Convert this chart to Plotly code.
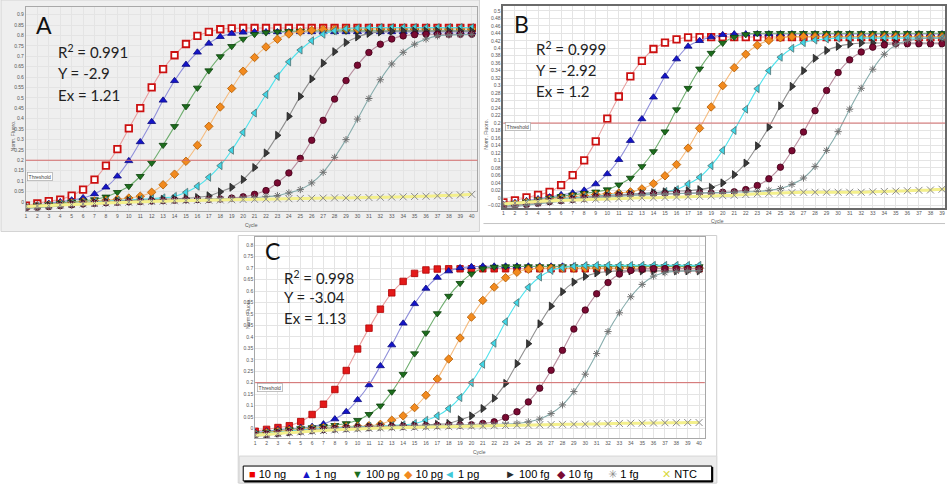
import plotly.graph_objects as go

# ---------------- data ----------------
CYCLES = list(range(1, 41))
SERIES = ["10 ng", "1 ng", "100 pg", "10 pg", "1 pg", "100 fg", "10 fg", "1 fg", "NTC"]
THRESHOLD = 0.2

PANEL_LABELS = ["A", "B", "C"]
R2_VALUES = ["0.991", "0.999", "0.998"]
SLOPES = ["-2.9", "-2.92", "-3.04"]
EFFICIENCIES = ["1.21", "1.2", "1.13"]

A_10NG = [-0.018, -0.008, 0.003, 0.011, 0.030, 0.059, 0.107, 0.174, 0.253, 0.353,
          0.451, 0.550, 0.638, 0.705, 0.759, 0.798, 0.817, 0.830, 0.834, 0.836,
          0.836, 0.836, 0.836, 0.836, 0.836, 0.836, 0.836, 0.836, 0.836, 0.836,
          0.836, 0.836, 0.836, 0.836, 0.836, 0.836, 0.836, 0.836, 0.836, 0.836]
A_1NG = [-0.022, -0.016, -0.008, 0.000, 0.008, 0.019, 0.038, 0.070, 0.123, 0.197,
         0.288, 0.385, 0.488, 0.582, 0.660, 0.719, 0.762, 0.794, 0.809, 0.815,
         0.817, 0.817, 0.817, 0.817, 0.817, 0.817, 0.817, 0.817, 0.817, 0.817,
         0.817, 0.817, 0.817, 0.817, 0.817, 0.817, 0.817, 0.817, 0.817, 0.817]
A_100PG = [-0.025, -0.018, -0.012, -0.006, 0.000, 0.005, 0.011, 0.024, 0.046, 0.075,
           0.123, 0.187, 0.273, 0.363, 0.459, 0.548, 0.631, 0.699, 0.748, 0.783,
           0.806, 0.814, 0.818, 0.820, 0.821, 0.822, 0.822, 0.822, 0.822, 0.822,
           0.822, 0.822, 0.822, 0.822, 0.822, 0.822, 0.822, 0.822, 0.822, 0.822]
A_10PG = [-0.028, -0.022, -0.016, -0.010, -0.005, 0.000, 0.004, 0.008, 0.012, 0.018,
          0.027, 0.046, 0.082, 0.133, 0.195, 0.272, 0.363, 0.456, 0.545, 0.628,
          0.694, 0.745, 0.782, 0.807, 0.818, 0.825, 0.829, 0.830, 0.831, 0.831,
          0.831, 0.831, 0.831, 0.831, 0.831, 0.831, 0.831, 0.831, 0.831, 0.831]
A_1PG = [-0.030, -0.024, -0.018, -0.013, -0.008, -0.004, 0.000, 0.003, 0.006, 0.009,
         0.012, 0.015, 0.019, 0.026, 0.046, 0.075, 0.118, 0.174, 0.248, 0.334,
         0.427, 0.516, 0.603, 0.673, 0.730, 0.775, 0.806, 0.823, 0.832, 0.836,
         0.838, 0.838, 0.838, 0.838, 0.838, 0.838, 0.838, 0.838, 0.838, 0.838]
A_100FG = [-0.028, -0.023, -0.018, -0.013, -0.009, -0.005, -0.002, 0.001, 0.004, 0.006,
           0.008, 0.010, 0.012, 0.014, 0.017, 0.021, 0.029, 0.048, 0.070, 0.107,
           0.165, 0.235, 0.320, 0.411, 0.507, 0.591, 0.667, 0.722, 0.766, 0.793,
           0.810, 0.817, 0.820, 0.821, 0.821, 0.821, 0.821, 0.821, 0.821, 0.821]
A_10FG = [-0.030, -0.026, -0.022, -0.018, -0.014, -0.010, -0.007, -0.004, -0.002, 0.000,
          0.002, 0.004, 0.006, 0.008, 0.010, 0.011, 0.012, 0.014, 0.018, 0.024,
          0.036, 0.054, 0.091, 0.139, 0.209, 0.296, 0.392, 0.494, 0.583, 0.657,
          0.718, 0.758, 0.783, 0.798, 0.804, 0.806, 0.806, 0.806, 0.806, 0.806]
A_1FG = [-0.032, -0.028, -0.024, -0.020, -0.016, -0.012, -0.009, -0.006, -0.003, -0.001,
         0.001, 0.003, 0.005, 0.007, 0.009, 0.011, 0.013, 0.015, 0.016, 0.018,
         0.020, 0.025, 0.030, 0.043, 0.059, 0.091, 0.142, 0.214, 0.299, 0.398,
         0.497, 0.587, 0.663, 0.719, 0.758, 0.783, 0.798, 0.802, 0.804, 0.805]
A_NTC = [-0.022, -0.020, -0.018, -0.015, -0.013, -0.010, -0.008, -0.006, -0.004, -0.002,
         0.000, 0.002, 0.003, 0.005, 0.006, 0.007, 0.008, 0.009, 0.010, 0.011,
         0.012, 0.013, 0.014, 0.015, 0.016, 0.017, 0.018, 0.019, 0.019, 0.020,
         0.021, 0.022, 0.023, 0.024, 0.026, 0.027, 0.029, 0.031, 0.033, 0.036]

B_10NG = [-0.012, -0.007, 0.001, 0.008, 0.016, 0.034, 0.061, 0.100, 0.151, 0.212,
          0.271, 0.325, 0.366, 0.398, 0.415, 0.424, 0.429, 0.430, 0.430, 0.430,
          0.430, 0.430, 0.430, 0.430, 0.430, 0.430, 0.430, 0.430, 0.430, 0.430,
          0.430, 0.430, 0.430, 0.430, 0.430, 0.430, 0.430, 0.430, 0.430, 0.430]
B_1NG = [-0.018, -0.013, -0.008, -0.003, 0.002, 0.008, 0.013, 0.020, 0.037, 0.064,
         0.102, 0.153, 0.211, 0.269, 0.325, 0.371, 0.405, 0.420, 0.430, 0.436,
         0.438, 0.438, 0.438, 0.438, 0.438, 0.438, 0.438, 0.438, 0.438, 0.438,
         0.438, 0.438, 0.438, 0.438, 0.438, 0.438, 0.438, 0.438, 0.438, 0.438]
B_100PG = [-0.020, -0.015, -0.010, -0.005, -0.001, 0.004, 0.008, 0.012, 0.016, 0.022,
           0.035, 0.053, 0.084, 0.124, 0.177, 0.236, 0.293, 0.345, 0.387, 0.414,
           0.430, 0.437, 0.440, 0.440, 0.440, 0.440, 0.440, 0.440, 0.440, 0.440,
           0.440, 0.440, 0.440, 0.440, 0.440, 0.440, 0.440, 0.440, 0.440, 0.440]
B_10PG = [-0.022, -0.017, -0.012, -0.008, -0.004, 0.000, 0.003, 0.006, 0.009, 0.011,
          0.013, 0.016, 0.024, 0.038, 0.059, 0.089, 0.133, 0.186, 0.243, 0.300,
          0.348, 0.384, 0.408, 0.421, 0.428, 0.431, 0.431, 0.431, 0.431, 0.431,
          0.431, 0.431, 0.431, 0.431, 0.431, 0.431, 0.431, 0.431, 0.431, 0.431]
B_1PG = [-0.024, -0.019, -0.014, -0.010, -0.006, -0.003, 0.000, 0.003, 0.005, 0.007,
         0.009, 0.010, 0.011, 0.013, 0.017, 0.022, 0.037, 0.055, 0.086, 0.127,
         0.180, 0.237, 0.292, 0.340, 0.376, 0.400, 0.415, 0.422, 0.425, 0.427,
         0.427, 0.427, 0.427, 0.427, 0.427, 0.427, 0.427, 0.427, 0.427, 0.427]
B_100FG = [-0.024, -0.020, -0.016, -0.012, -0.008, -0.005, -0.002, 0.001, 0.004, 0.006,
           0.008, 0.010, 0.012, 0.014, 0.016, 0.018, 0.019, 0.022, 0.028, 0.040,
           0.062, 0.093, 0.139, 0.189, 0.246, 0.298, 0.340, 0.373, 0.394, 0.405,
           0.411, 0.414, 0.414, 0.414, 0.414, 0.414, 0.414, 0.414, 0.414, 0.414]
B_10FG = [-0.026, -0.022, -0.018, -0.014, -0.010, -0.007, -0.004, -0.001, 0.002, 0.004,
          0.006, 0.008, 0.009, 0.010, 0.011, 0.012, 0.012, 0.013, 0.013, 0.015,
          0.016, 0.022, 0.033, 0.051, 0.082, 0.126, 0.176, 0.233, 0.287, 0.335,
          0.369, 0.390, 0.403, 0.409, 0.412, 0.412, 0.412, 0.412, 0.412, 0.412]
B_1FG = [-0.028, -0.024, -0.020, -0.016, -0.012, -0.009, -0.006, -0.003, 0.000, 0.002,
         0.004, 0.006, 0.008, 0.009, 0.010, 0.011, 0.012, 0.013, 0.014, 0.014,
         0.015, 0.016, 0.017, 0.020, 0.025, 0.036, 0.053, 0.084, 0.127, 0.177,
         0.237, 0.293, 0.344, 0.384, 0.409, 0.420, 0.425, 0.427, 0.427, 0.427]
B_NTC = [-0.016, -0.014, -0.012, -0.010, -0.008, -0.007, -0.006, -0.005, -0.004, -0.003,
         -0.002, -0.001, 0.000, 0.000, 0.001, 0.002, 0.003, 0.004, 0.005, 0.006,
         0.007, 0.009, 0.011, 0.012, 0.013, 0.014, 0.015, 0.015, 0.015, 0.015,
         0.015, 0.015, 0.016, 0.017, 0.018, 0.019, 0.020, 0.021, 0.023, 0.024]

C_10NG = [-0.012, -0.004, 0.004, 0.012, 0.030, 0.061, 0.106, 0.170, 0.253, 0.347,
          0.438, 0.521, 0.592, 0.642, 0.677, 0.692, 0.696, 0.697, 0.697, 0.697,
          0.697, 0.697, 0.697, 0.697, 0.697, 0.697, 0.697, 0.697, 0.697, 0.697,
          0.697, 0.697, 0.697, 0.697, 0.697, 0.697, 0.697, 0.697, 0.697, 0.697]
C_1NG = [-0.018, -0.012, -0.006, -0.001, 0.003, 0.008, 0.019, 0.041, 0.073, 0.125,
         0.190, 0.273, 0.364, 0.459, 0.544, 0.611, 0.659, 0.687, 0.701, 0.706,
         0.708, 0.708, 0.708, 0.708, 0.708, 0.708, 0.708, 0.708, 0.708, 0.708,
         0.708, 0.708, 0.708, 0.708, 0.708, 0.708, 0.708, 0.708, 0.708, 0.708]
C_100PG = [-0.022, -0.016, -0.010, -0.005, 0.000, 0.004, 0.009, 0.014, 0.022, 0.036,
           0.062, 0.099, 0.160, 0.237, 0.327, 0.417, 0.502, 0.578, 0.634, 0.675,
           0.698, 0.705, 0.707, 0.707, 0.707, 0.707, 0.707, 0.707, 0.707, 0.707,
           0.707, 0.707, 0.707, 0.707, 0.707, 0.707, 0.707, 0.707, 0.707, 0.707]
C_10PG = [-0.025, -0.019, -0.013, -0.008, -0.004, 0.000, 0.003, 0.006, 0.008, 0.010,
          0.012, 0.018, 0.036, 0.055, 0.091, 0.145, 0.216, 0.303, 0.395, 0.486,
          0.559, 0.617, 0.658, 0.682, 0.695, 0.700, 0.700, 0.700, 0.700, 0.700,
          0.700, 0.700, 0.700, 0.700, 0.700, 0.700, 0.700, 0.700, 0.700, 0.700]
C_1PG = [-0.028, -0.022, -0.016, -0.011, -0.007, -0.003, 0.000, 0.003, 0.005, 0.007,
         0.009, 0.011, 0.013, 0.016, 0.022, 0.036, 0.055, 0.087, 0.135, 0.200,
         0.280, 0.372, 0.466, 0.549, 0.616, 0.661, 0.690, 0.702, 0.708, 0.711,
         0.712, 0.712, 0.712, 0.712, 0.712, 0.712, 0.712, 0.712, 0.712, 0.712]
C_100FG = [-0.032, -0.026, -0.020, -0.015, -0.010, -0.006, -0.003, 0.000, 0.003, 0.005,
           0.007, 0.009, 0.011, 0.012, 0.013, 0.015, 0.018, 0.022, 0.038, 0.055,
           0.087, 0.132, 0.197, 0.283, 0.370, 0.457, 0.534, 0.597, 0.639, 0.664,
           0.679, 0.685, 0.688, 0.688, 0.688, 0.688, 0.688, 0.688, 0.688, 0.688]
C_10FG = [-0.030, -0.025, -0.020, -0.015, -0.011, -0.007, -0.004, -0.001, 0.002, 0.004,
          0.006, 0.008, 0.009, 0.010, 0.011, 0.012, 0.013, 0.014, 0.015, 0.016,
          0.022, 0.029, 0.048, 0.073, 0.116, 0.176, 0.254, 0.341, 0.434, 0.517,
          0.588, 0.637, 0.674, 0.690, 0.696, 0.698, 0.698, 0.698, 0.698, 0.698]
C_1FG = [-0.034, -0.029, -0.024, -0.019, -0.015, -0.011, -0.008, -0.005, -0.002, 0.000,
         0.002, 0.004, 0.006, 0.008, 0.010, 0.011, 0.012, 0.013, 0.014, 0.015,
         0.016, 0.017, 0.019, 0.022, 0.029, 0.041, 0.065, 0.103, 0.161, 0.237,
         0.327, 0.423, 0.505, 0.575, 0.629, 0.665, 0.680, 0.686, 0.688, 0.689]
C_NTC = [-0.030, -0.026, -0.022, -0.018, -0.015, -0.012, -0.009, -0.006, -0.004, -0.002,
         0.000, 0.002, 0.003, 0.004, 0.005, 0.006, 0.007, 0.008, 0.009, 0.010,
         0.011, 0.012, 0.013, 0.014, 0.015, 0.016, 0.017, 0.018, 0.018, 0.019,
         0.020, 0.021, 0.022, 0.023, 0.023, 0.024, 0.025, 0.025, 0.026, 0.026]

A_DATA = [A_10NG, A_1NG, A_100PG, A_10PG, A_1PG, A_100FG, A_10FG, A_1FG, A_NTC]
B_DATA = [B_10NG, B_1NG, B_100PG, B_10PG, B_1PG, B_100FG, B_10FG, B_1FG, B_NTC]
C_DATA = [C_10NG, C_1NG, C_100PG, C_10PG, C_1PG, C_100FG, C_10FG, C_1FG, C_NTC]

# ---------------- styling ----------------
W, H = 947, 484


def px(x):
    return x / W


def py(y):
    return 1 - y / H


STYLE = [
    dict(symbol="square", color="#e31a1a", mline="#b00000", line="#e8a0a0", size=6.5),
    dict(symbol="triangle-up", color="#1515c8", mline="#0a0a80", line="#9090da", size=7),
    dict(symbol="triangle-down", color="#1d6e1d", mline="#0c400c", line="#70ae70", size=7),
    dict(symbol="diamond", color="#f28a1e", mline="#b05a00", line="#f5bc80", size=6.5),
    dict(symbol="triangle-left", color="#3fd6e6", mline="#507070", line="#50e2ec", size=7),
    dict(symbol="triangle-right", color="#3a3a3a", mline="#202020", line="#909090", size=7),
    dict(symbol="circle", color="#7a0a32", mline="#400018", line="#b890a0", size=6.5),
    dict(symbol="asterisk-open", color="#707070", mline="#6a6a6a", line="#86acac", size=6),
    dict(symbol="x-thin-open", color="#8a8a8a", mline="#8a8a8a", line="#f4f08c", size=7),
]
LEGEND_GLYPHS = ["\u25a0", "\u25b2", "\u25bc", "\u25c6", "\u25c4", "\u25ba", "\u25c6", "\u2733", "\u2715"]
LEGEND_COLORS = ["#ee0000", "#1515c8", "#1d6e1d", "#f28a1e", "#3fc8d8", "#2a2a2a", "#7a0a32", "#8a8a8a", "#d8d840"]

PANELS = [
    dict(data=A_DATA, xs="x", ys="y", xdom=(25, 478), ydom=(7, 211), xr=[1, 40.5],
         yr=[-0.042, 0.937], dtick=0.05, hollow=True, thr_lab=0.12,
         letter=(33, 25), stats_x=55, stats_y=(52, 73, 95), ytitle=(7, 118), xtitle=(243, 225),
         frame="#a8a8a8", fw=1),
    dict(data=B_DATA, xs="x2", ys="y2", xdom=(504, 947), ydom=(6, 208), xr=[1, 39.26],
         yr=[-0.026, 0.513], dtick=0.02, hollow=True, thr_lab=0.19,
         letter=(513, 24), stats_x=535, stats_y=(49, 70, 91), ytitle=(487, 117), xtitle=(727, 221),
         frame="#6a6a6a", fw=1.5),
    dict(data=C_DATA, xs="x3", ys="y3", xdom=(255, 706), ydom=(237, 439), xr=[1, 40.5],
         yr=[-0.042, 0.838], dtick=0.05, hollow=False, thr_lab=0.18,
         letter=(263, 252), stats_x=282, stats_y=(278, 298, 319), ytitle=(243, 332), xtitle=(480, 453),
         frame="#a8a8a8", fw=1),
]

fig = go.Figure()
shapes = []
annotations = []

# window backgrounds
shapes.append(dict(type="rect", xref="paper", yref="paper", x0=px(0), x1=px(480), y0=py(232), y1=py(0),
                   fillcolor="#efefef", line=dict(color="#d4d4d4", width=1), layer="below"))
shapes.append(dict(type="line", xref="paper", yref="paper", x0=px(484), x1=px(947), y0=py(224), y1=py(224),
                   line=dict(color="#c4c4c4", width=1), layer="below"))
shapes.append(dict(type="rect", xref="paper", yref="paper", x0=px(238), x1=px(718), y0=py(484), y1=py(236),
                   fillcolor="rgba(0,0,0,0)", line=dict(color="#cfcfcf", width=1), layer="below"))
shapes.append(dict(type="rect", xref="paper", yref="paper", x0=px(239), x1=px(718), y0=py(484), y1=py(457),
                   fillcolor="#ececec", line=dict(color="#d8d8d8", width=1), layer="below"))

layout_axes = {}
for i, p in enumerate(PANELS):
    xs, ys = p["xs"], p["ys"]
    xname = "xaxis" if xs == "x" else "xaxis" + xs[1:]
    yname = "yaxis" if ys == "y" else "yaxis" + ys[1:]
    layout_axes[xname] = dict(domain=[px(p["xdom"][0]), px(p["xdom"][1])], range=p["xr"], anchor=ys,
                              tick0=1, dtick=1, showgrid=True, gridcolor="#e4e4e4", gridwidth=1,
                              zeroline=False, showline=True, mirror=True, linecolor=p["frame"],
                              linewidth=p["fw"], ticks="", tickfont=dict(size=5, color="#555555",
                                                                         family="Liberation Sans"))
    layout_axes[yname] = dict(domain=[py(p["ydom"][1]), py(p["ydom"][0])], range=p["yr"], anchor=xs,
                              tick0=0, dtick=p["dtick"], showgrid=True, gridcolor="#e4e4e4", gridwidth=1,
                              zeroline=False, showline=True, mirror=True, linecolor=p["frame"],
                              linewidth=p["fw"], ticks="", ticklen=2,
                              tickfont=dict(size=5, color="#555555", family="Liberation Sans"))

    for k, (name, vals, st) in enumerate(zip(SERIES, p["data"], STYLE)):
        assert len(vals) == len(CYCLES)
        if k == 0 and p["hollow"]:
            marker = dict(symbol="square", size=6.5, color="#ffffff",
                          line=dict(color="#cc1010", width=1.8))
        elif st["symbol"].endswith("open"):
            marker = dict(symbol=st["symbol"], size=st["size"], color=st["color"],
                          line=dict(color=st["mline"], width=1))
        else:
            marker = dict(symbol=st["symbol"], size=st["size"], color=st["color"],
                          line=dict(color=st["mline"], width=0.8))
        lw = 3 if name == "NTC" else 1.1
        fig.add_trace(go.Scatter(x=CYCLES, y=vals, mode="lines+markers", name=name,
                                 xaxis=xs, yaxis=ys, showlegend=False,
                                 line=dict(color=st["line"], width=lw, shape="spline"),
                                 marker=marker))

    # threshold line + label
    shapes.append(dict(type="line", xref=f"{xs} domain", yref=ys, x0=0, x1=1, y0=THRESHOLD, y1=THRESHOLD,
                       line=dict(color="#d46a6a", width=1)))
    annotations.append(dict(xref=f"{xs} domain", yref=ys, x=0.003, y=p["thr_lab"], text="Threshold",
                            showarrow=False, xanchor="left", yanchor="middle",
                            font=dict(size=5, color="#444444", family="Liberation Sans"),
                            bgcolor="#ffffff", bordercolor="#9a9a9a", borderwidth=0.6, borderpad=1))
    # axis titles
    annotations.append(dict(xref="paper", yref="paper", x=px(p["ytitle"][0]), y=py(p["ytitle"][1]),
                            text="Norm. Fluoro.", textangle=-90, showarrow=False,
                            font=dict(size=5, color="#555555", family="Liberation Sans")))
    annotations.append(dict(xref="paper", yref="paper", x=px(p["xtitle"][0]), y=py(p["xtitle"][1]),
                            text="Cycle", showarrow=False, yanchor="middle",
                            font=dict(size=5, color="#555555", family="Liberation Sans")))
    # panel letter and fit statistics
    annotations.append(dict(xref="paper", yref="paper", x=px(p["letter"][0]), y=py(p["letter"][1]),
                            text=PANEL_LABELS[i], showarrow=False, xanchor="left", yanchor="middle",
                            font=dict(size=23, color="#111111", family="Lato")))
    stats = [f"R<sup>2</sup> = {R2_VALUES[i]}", f"Y = {SLOPES[i]}", f"Ex = {EFFICIENCIES[i]}"]
    for t, yy in zip(stats, p["stats_y"]):
        annotations.append(dict(xref="paper", yref="paper", x=px(p["stats_x"]), y=py(yy), text=t,
                                showarrow=False, xanchor="left", yanchor="middle",
                                font=dict(size=15, color="#222222", family="Lato")))

# legend box (bottom of panel C)
shapes.append(dict(type="rect", xref="paper", yref="paper", x0=px(243), x1=px(713), y0=py(482), y1=py(467),
                   fillcolor="#ffffff", line=dict(color="#000000", width=1)))
shapes.append(dict(type="line", xref="paper", yref="paper", x0=px(244), x1=px(714), y0=py(482.5), y1=py(482.5),
                   line=dict(color="#000000", width=2)))
shapes.append(dict(type="line", xref="paper", yref="paper", x0=px(713.5), x1=px(713.5), y0=py(468), y1=py(483),
                   line=dict(color="#000000", width=2)))
LEGEND_X = [248, 300, 351, 403, 443, 505, 557, 608, 662]
for name, glyph, col, lx in zip(SERIES, LEGEND_GLYPHS, LEGEND_COLORS, LEGEND_X):
    annotations.append(dict(xref="paper", yref="paper", x=px(lx), y=py(475), xanchor="left", yanchor="middle",
                            text=f"<span style='color:{col}'>{glyph}</span> {name}", showarrow=False,
                            borderpad=0,
                            font=dict(size=11, color="#000000", family="Liberation Sans, DejaVu Sans")))

fig.update_layout(width=W, height=H, margin=dict(l=0, r=0, t=0, b=0),
                  paper_bgcolor="#ffffff", plot_bgcolor="#ffffff",
                  showlegend=False, shapes=shapes, annotations=annotations, **layout_axes)

fig.write_html("out.html")
